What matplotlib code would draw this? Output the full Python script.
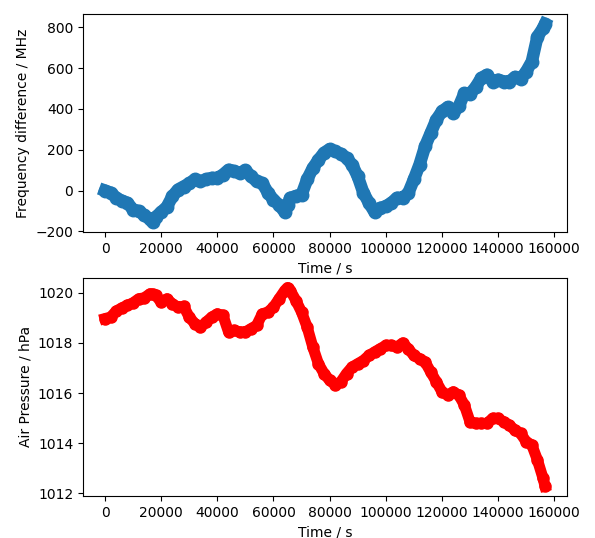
import matplotlib
matplotlib.use("Agg")
import matplotlib.pyplot as plt

# Time stamps (s)
time_s = [0, 2000, 4000, 6000, 8000, 10000, 12000, 14000, 16000, 17000,
          18000, 20000, 22000, 24000, 26000, 28000, 30000, 32000, 34000, 36000,
          38000, 40000, 42000, 44000, 46000, 48000, 50000, 52000, 54000, 56000,
          58000, 60000, 62000, 64000, 65000, 66000, 68000, 70000, 72000, 74000,
          76000, 78000, 80000, 82000, 84000, 86000, 88000, 90000, 92000, 94000,
          96000, 98000, 100000, 102000, 104000, 106000, 108000, 110000, 112000, 114000,
          116000, 118000, 120000, 122000, 124000, 126000, 128000, 130000, 132000, 134000,
          136000, 138000, 140000, 142000, 144000, 146000, 148000, 150000, 152000, 154000,
          156000, 156700]

# Frequency difference (MHz)
freq_diff = [0, -10, -35, -50, -60, -93, -100, -120, -140, -156,
             -130, -105, -80, -28, 5, 20, 35, 55, 45, 55,
             62, 62, 78, 102, 95, 85, 100, 70, 45, 37,
             -10, -45, -70, -105, -70, -35, -27, -20, 55, 110,
             150, 185, 203, 192, 180, 160, 127, 70, -10, -60,
             -105, -85, -77, -60, -35, -35, -12, 55, 127, 217,
             282, 347, 388, 408, 380, 412, 477, 474, 507, 551,
             567, 534, 543, 534, 534, 556, 546, 583, 632, 754,
             795, 816]

# Air pressure (hPa)
pressure = [1018.97, 1019.03, 1019.27, 1019.4, 1019.5, 1019.6, 1019.76, 1019.8, 1019.96, 1019.95,
            1019.9, 1019.63, 1019.76, 1019.56, 1019.43, 1019.46, 1019.03, 1018.77, 1018.63, 1018.83,
            1019.03, 1019.16, 1019.1, 1018.44, 1018.5, 1018.44, 1018.44, 1018.57, 1018.7, 1019.16,
            1019.23, 1019.43, 1019.76, 1020.09, 1020.21, 1020.09, 1019.69, 1019.23, 1018.63, 1017.84,
            1017.17, 1016.78, 1016.51, 1016.34, 1016.45, 1016.78, 1017.04, 1017.17, 1017.3, 1017.5,
            1017.64, 1017.77, 1017.9, 1017.9, 1017.84, 1018.0, 1017.77, 1017.5, 1017.37, 1017.24,
            1016.84, 1016.45, 1016.05, 1015.92, 1016.05, 1015.92, 1015.52, 1014.85, 1014.79, 1014.79,
            1014.79, 1014.99, 1014.99, 1014.85, 1014.72, 1014.52, 1014.39, 1014.06, 1013.93, 1013.33,
            1012.6, 1012.29]

plt.rcParams["font.size"] = 10

fig, (ax1, ax2) = plt.subplots(2, 1, figsize=(5.95, 5.38), dpi=100)
fig.subplots_adjust(left=0.1395, right=0.953, top=0.974, bottom=0.078, hspace=0.207)

ax1.plot(time_s, freq_diff, "o-", color="#1f77b4", ms=9, lw=9)
ax1.set_xlabel("Time / s")
ax1.set_ylabel("Frequency difference / MHz")

ax2.plot(time_s, pressure, "o-", color="red", ms=8, lw=8)
ax2.set_xlabel("Time / s")
ax2.set_ylabel("Air Pressure / hPa")

fig.savefig("out.png", dpi=100)
